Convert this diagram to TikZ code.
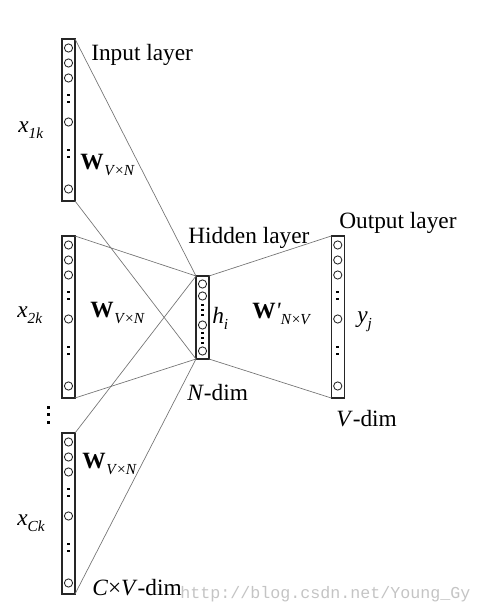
\documentclass[tikz,border=0pt]{standalone}
\usepackage{fontspec}
\setmainfont{Liberation Serif}
\newfontfamily\wmfont{Liberation Mono}
\newcommand\labfont{\fontsize{17.5}{20}\selectfont}
\newcommand\lsub[1]{\raisebox{-4.5pt}{\fontsize{11.5}{11.5}\selectfont\itshape #1}}
\begin{document}
\begin{tikzpicture}[x=0.75pt,y=-0.75pt,
  colbox/.style={draw=black!85, line width=0.85pt, minimum width=13*0.75pt, inner sep=0pt, outer sep=0pt},
  conn/.style={draw=black!55, line width=0.5pt},
  unit/.style={draw=black!85, line width=0.65pt},
  lab/.style={font=\labfont, inner sep=0pt, anchor=base west},
  wm/.style={font=\wmfont\fontsize{12.5}{14}\selectfont, text=black!23, inner sep=0pt, anchor=base west}
]
\useasboundingbox (0,0) rectangle (481,614);

% layer columns
\node[colbox, minimum height=162*0.75pt] (in1) at (68.5,120) {};
\node[colbox, minimum height=162*0.75pt] (in2) at (68.5,317) {};
\node[colbox, minimum height=161*0.75pt] (in3) at (68.5,513.5) {};
\node[colbox, minimum height=83*0.75pt] (hid) at (202.5,317.5) {};
\node[colbox, minimum height=162*0.75pt] (out) at (337.75,317) {};

% units in input/output columns
\foreach \c/\t in {68.5/39, 68.5/236, 68.5/433, 337.75/236}{
  \foreach \d in {9,24,39,83,150}
    \draw[unit] (\c,\t+\d) circle[radius=4.1];
  \foreach \d in {56,63,111,118}
    \fill (\c-1.4,\t+\d-1.4) rectangle ++(2.8,2.8);
}
% units in hidden column
\foreach \d in {284,296,325,351}
  \draw[unit] (202.5,\d) circle[radius=4.1];
\foreach \d in {305,310,315,333,338,343}
  \fill (202.5-1.4,\d-1.4) rectangle ++(2.8,2.8);

% vertical ellipsis between input columns
\foreach \d in {407,414.5,422}
  \fill (48-1.5,\d-1.5) rectangle ++(3,3);

% connectors
\draw[conn] (in1.north east) -- (hid.north west);
\draw[conn] (in1.south east) -- (hid.south west);
\draw[conn] (in2.north east) -- (hid.north west);
\draw[conn] (in2.south east) -- (hid.south west);
\draw[conn] (in3.north east) -- (hid.north west);
\draw[conn] (in3.south east) -- (hid.south west);
\draw[conn] (hid.north east) -- (out.north west);
\draw[conn] (hid.south east) -- (out.south west);

% labels
\node[lab] (linput) at (91,60.5) {Input layer};
\node[lab] (lhidden) at (188,243) {Hidden layer};
\node[lab] (loutput) at (339,228) {Output layer};
\node[lab] (lndim) at (187,400) {\textit{N}-dim};
\node[lab] (lvdim) at (336,426) {\textit{V}-dim};
\node[lab] (lcvdim) at (92,595) {\textit{C}×\textit{V}-dim};

\node[lab] (lx1) at (18,132) {\textit{x}\lsub{1k}};
\node[lab] (lx2) at (17,317) {\textit{x}\lsub{2k}};
\node[lab] (lx3) at (17,525) {\textit{x}\lsub{Ck}};

\node[lab] (lw1) at (80,169) {\textbf{W}\kern0.5pt\lsub{V\textup{×}N}};
\node[lab] (lw2) at (90,317) {\textbf{W}\kern0.5pt\lsub{V\textup{×}N}};
\node[lab] (lw3) at (82,468) {\textbf{W}\kern0.5pt\lsub{V\textup{×}N}};
\node[lab] (lwp) at (252,318) {\textbf{W}\textit{\textquotesingle}\lsub{N\textup{×}V}};

\node[lab] (lh) at (212,323) {\textit{h}\lsub{i}};
\node[lab] (ly) at (357,322) {\textit{y}\lsub{j}};

\node[wm] (wmark) at (180,598) {http://blog.csdn.net/Young\_Gy};
\end{tikzpicture}
\end{document}
